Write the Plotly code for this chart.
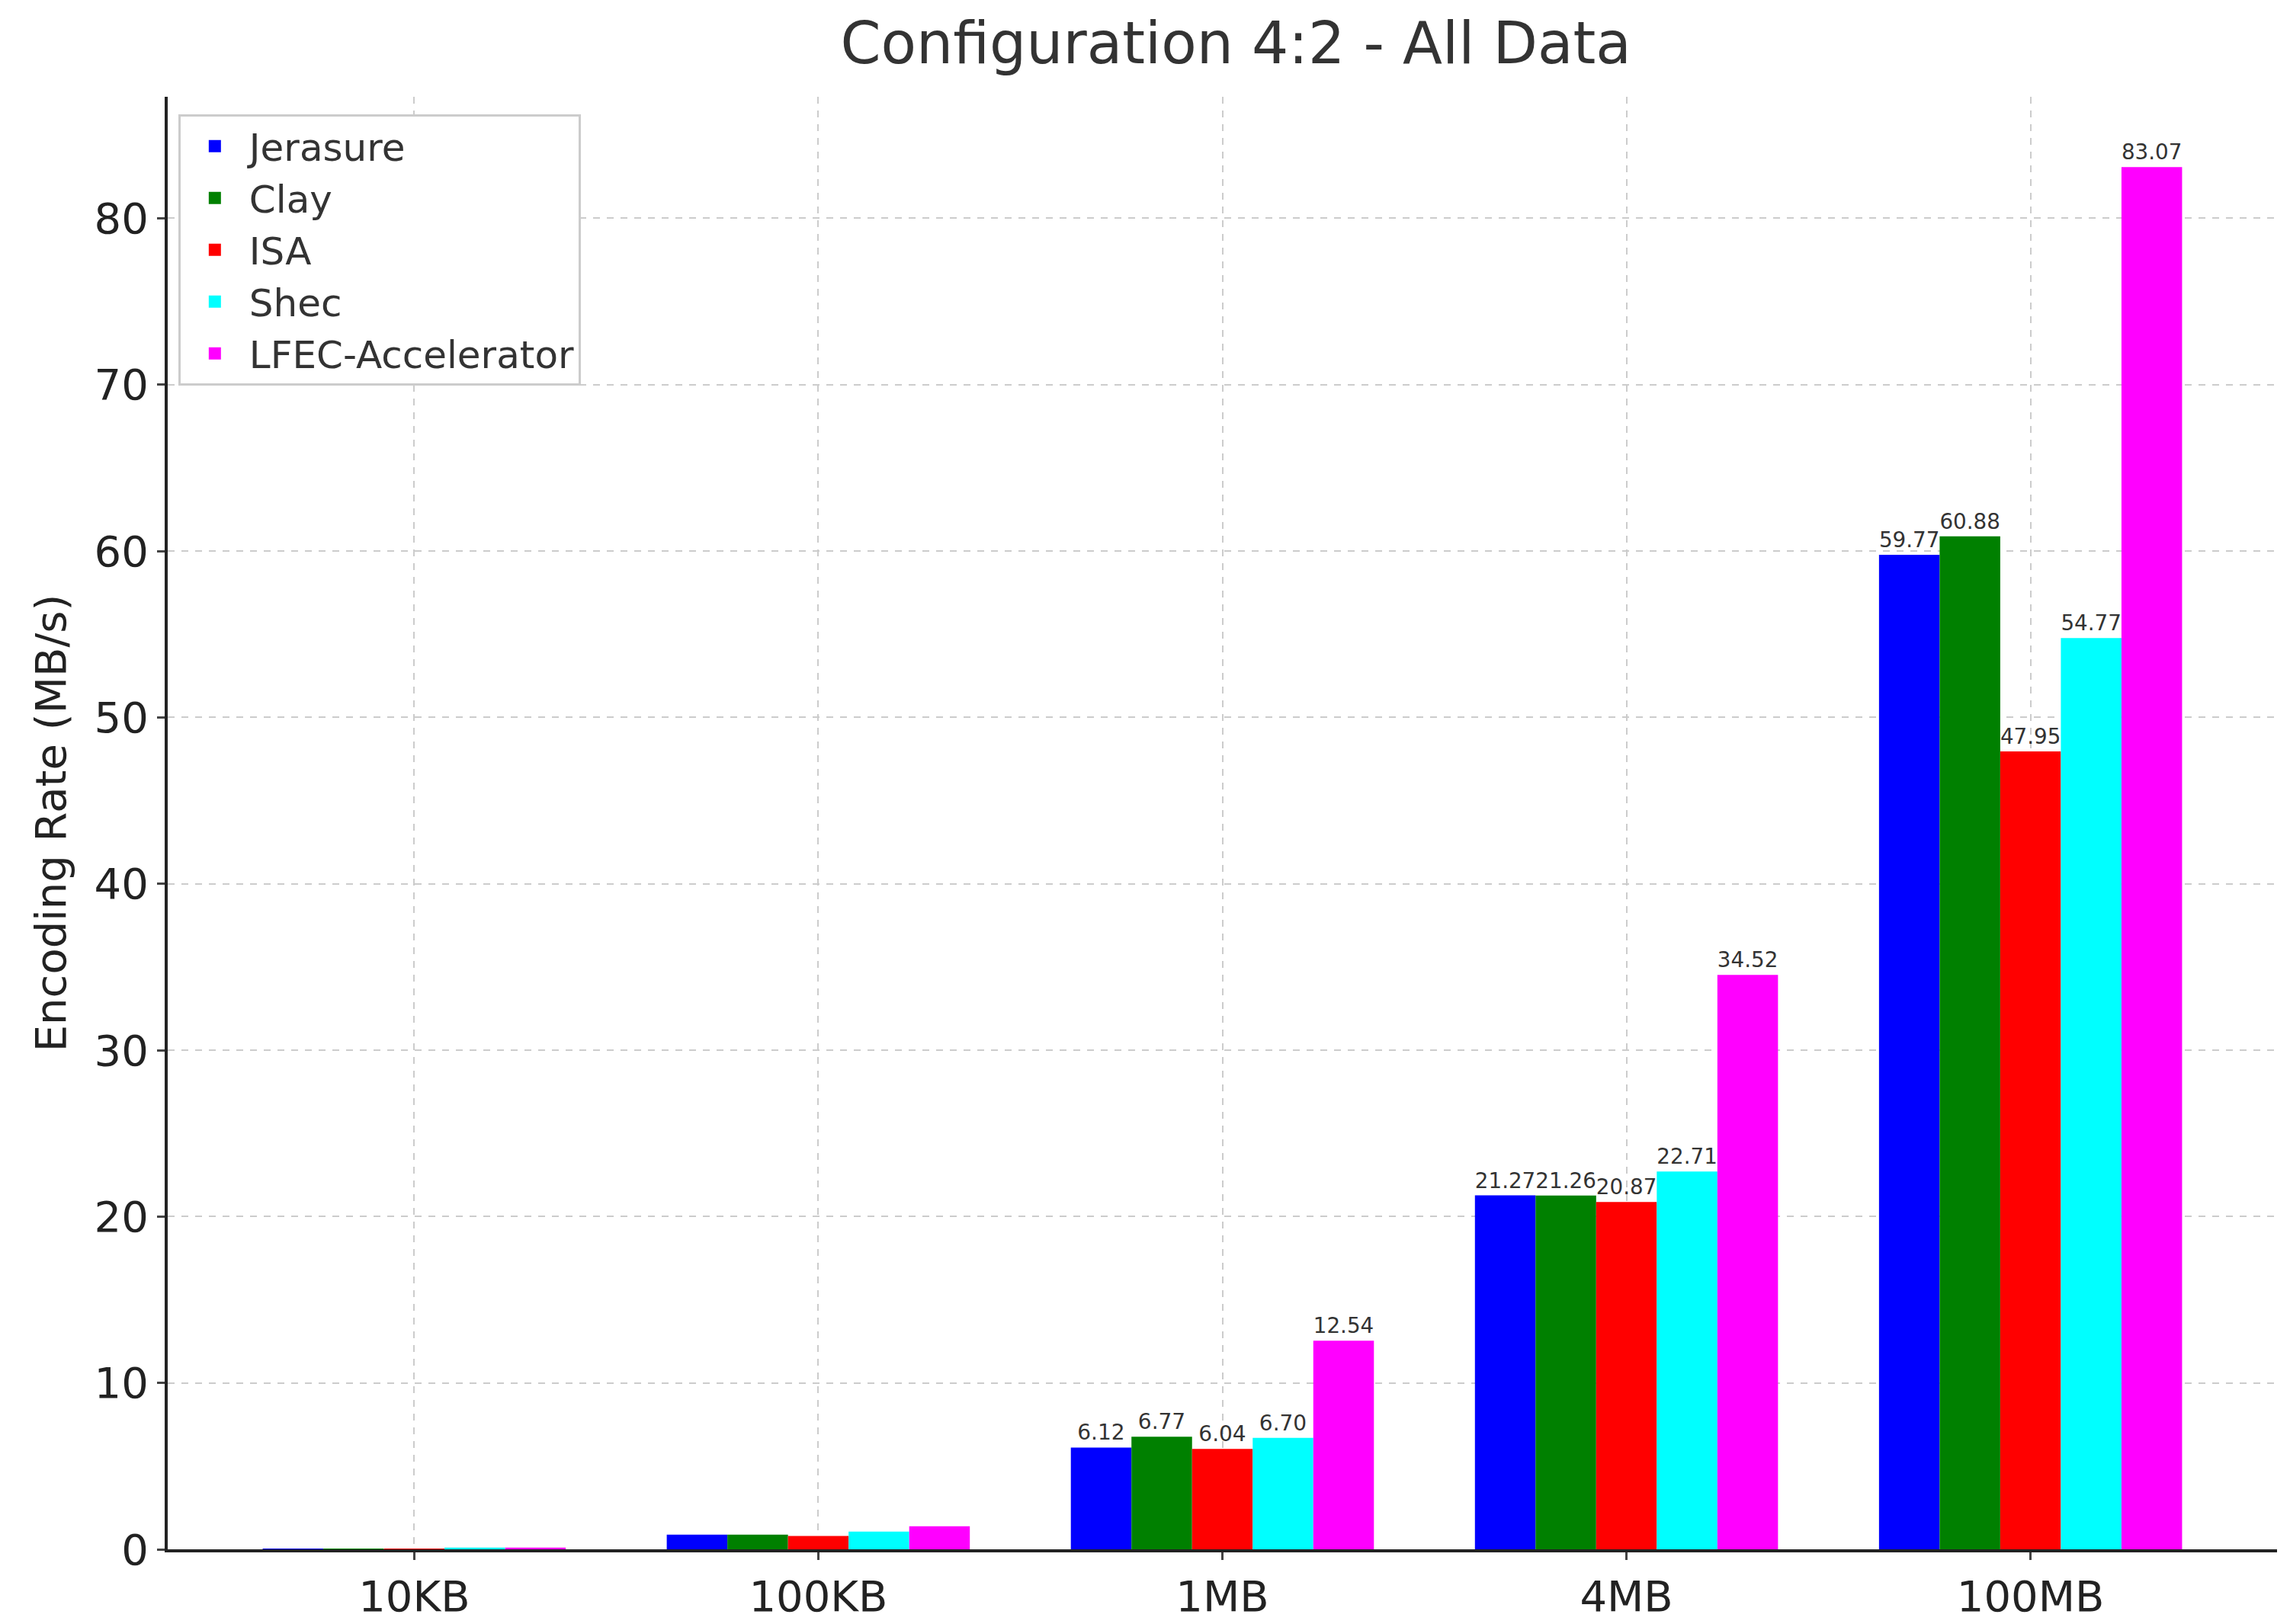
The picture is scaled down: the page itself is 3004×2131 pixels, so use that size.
import plotly.graph_objects as go

categories = ["10KB", "100KB", "1MB", "4MB", "100MB"]
jerasure = [0.02, 0.88, 6.12, 21.27, 59.77]
clay = [0.02, 0.88, 6.77, 21.26, 60.88]
isa = [0.02, 0.80, 6.04, 20.87, 47.95]
shec = [0.10, 1.06, 6.70, 22.71, 54.77]
lfec = [0.10, 1.39, 12.54, 34.52, 83.07]

series = [("Jerasure", jerasure, "#0000ff"), ("Clay", clay, "#008000"),
          ("ISA", isa, "#ff0000"), ("Shec", shec, "#00ffff"),
          ("LFEC-Accelerator", lfec, "#ff00ff")]

fig = go.Figure()
for name, vals, col in series:
    fig.add_trace(go.Bar(
        x=categories, y=vals, name=name, marker_color=col, marker_line_width=0,
        text=[f"{v:.2f}" if v > 5 else "" for v in vals], showlegend=False,
        textposition="outside", textfont=dict(size=28, color="#333333"),
        cliponaxis=False))
for name, vals, col in series:
    fig.add_trace(go.Scatter(
        x=[None], y=[None], mode="markers", name=name,
        marker=dict(symbol="square", size=34, color=col)))

fig.update_layout(
    width=3004, height=2131, barmode="group", bargap=0.25, bargroupgap=0,
    plot_bgcolor="white", paper_bgcolor="white",
    font=dict(family="DejaVu Sans", color="#333333"),
    title=dict(text="Configuration 4:2 - All Data", x=0.537, xanchor="center",
               y=0.99, yanchor="top", font=dict(size=76, color="#333333")),
    margin=dict(l=212, r=25, t=119, b=88),
    legend=dict(x=0.005, y=0.988, xanchor="left", yanchor="top",
                bgcolor="white", bordercolor="#cccccc", borderwidth=3,
                font=dict(size=50, color="#333333"), itemwidth=80, tracegroupgap=14),
    xaxis=dict(range=[-0.61, 4.61], showgrid=True, gridcolor="#cccccc", griddash="dash",
               gridwidth=2, showline=True, linecolor="#222222", linewidth=4,
               ticks="outside", ticklen=10, tickwidth=3,
               tickfont=dict(size=56, color="#222222")),
    yaxis=dict(range=[0, 87.3], dtick=10, showgrid=True, gridcolor="#cccccc",
               griddash="dash", gridwidth=2, showline=True, linecolor="#222222",
               linewidth=4, ticks="outside", ticklen=10, tickwidth=3, zeroline=False,
               tickfont=dict(size=56, color="#222222"),
               title=dict(text="Encoding Rate (MB/s)", font=dict(size=56, color="#222222"),
                          standoff=20)),
)
fig.write_html("out.html")
